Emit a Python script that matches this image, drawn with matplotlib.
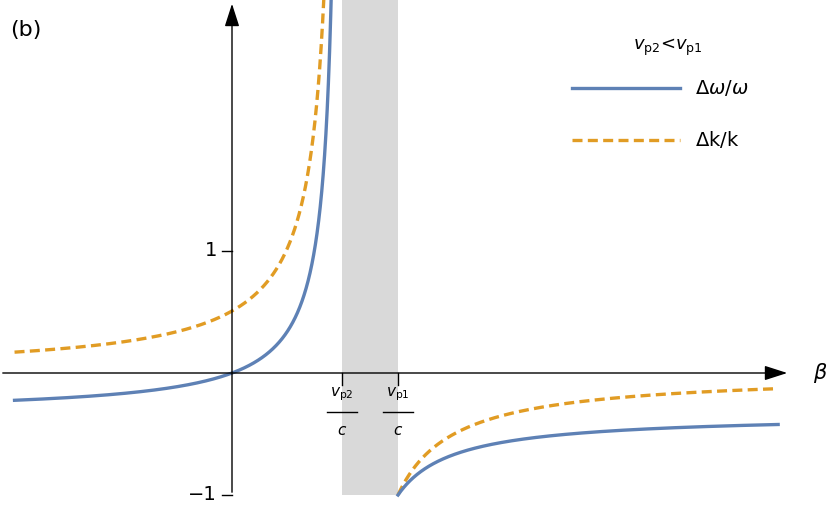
import numpy as np
import matplotlib
matplotlib.use("Agg")
import matplotlib.pyplot as plt
from matplotlib.lines import Line2D

# phase velocities (in units of c, scaled)
vp1 = 1.0
vp2 = 0.663
beta_min, beta_max = -1.31, 3.29
panel = "(b)"
legend_title = r"$v_{\rm p2}$<$v_{\rm p1}$"
series_labels = [r"$\Delta\omega/\omega$", r"$\Delta$k/k"]
blue, orange = "#5E81B5", "#E19C24"

def dw(b):
    return (1 - b / vp1) / (1 - b / vp2) - 1

def dk(b):
    return (vp1 / vp2) * (1 - b / vp1) / (1 - b / vp2) - 1

fig = plt.figure(figsize=(8.3, 5.08), dpi=100)
ax = fig.add_axes([0, 0, 1, 1])
ax.set_xlim(-232 / 166, 598 / 166)
ax.set_ylim(-135 / 122, 373 / 122)
ax.axis("off")

ax.fill_between([vp2, vp1], -1, 5, color="#d9d9d9", lw=0, zorder=0)

bl = np.linspace(beta_min, vp2 - 1e-4, 3000)
br = np.linspace(vp1, beta_max, 2000)
for f, c, ls in [(dk, orange, (0, (3, 1.6))), (dw, blue, "-")]:
    ax.plot(bl, f(bl), color=c, lw=2.4, ls=ls, zorder=3)
    ax.plot(br, f(br), color=c, lw=2.4, ls=ls, zorder=3)

# axes with arrows
ax.annotate("", xy=(790 / 166 - 232 / 166, 0), xytext=(-232 / 166, 0),
            arrowprops=dict(arrowstyle="-|>,head_length=1.4,head_width=0.45", color="black", lw=1))
ax.annotate("", xy=(0, 372 / 122), xytext=(0, -1.0),
            arrowprops=dict(arrowstyle="-|>,head_length=1.4,head_width=0.45", color="black", lw=1))
ax.text(820 / 166 - 232 / 166, 0, r"$\beta$", fontsize=15, va="center", ha="center")

# y ticks
for yv, lab in [(1, "1"), (-1, "\u22121")]:
    ax.plot([-0.06, 0], [yv, yv], color="black", lw=1)
    ax.text(-0.09, yv, lab, ha="right", va="center", fontsize=14)

# x ticks
for xv, sub in [(vp2, "p2"), (vp1, "p1")]:
    ax.plot([xv, xv], [0, -0.1], color="black", lw=1)
    ax.text(xv, -0.17, r"$v_{\rm %s}$" % sub, ha="center", va="center", fontsize=11)
    ax.plot([xv - 0.09, xv + 0.09], [-0.32, -0.32], color="black", lw=1)
    ax.text(xv, -0.47, r"$c$", ha="center", va="center", fontsize=11)

fig.text(10 / 830, 1 - 30 / 508, panel, fontsize=16, va="center")
fig.text(668 / 830, 1 - 47 / 508, legend_title, fontsize=13, va="center", ha="center")
for i, (c, ls, lab) in enumerate([(blue, "-", series_labels[0]), (orange, (0, (3, 1.6)), series_labels[1])]):
    yy = 1 - (88 + 52 * i) / 508
    fig.add_artist(Line2D([572 / 830, 680 / 830], [yy, yy], color=c, lw=2.4, ls=ls, transform=fig.transFigure))
    fig.text(695 / 830, yy, lab, fontsize=14, va="center")

fig.savefig("out.png", dpi=100)
